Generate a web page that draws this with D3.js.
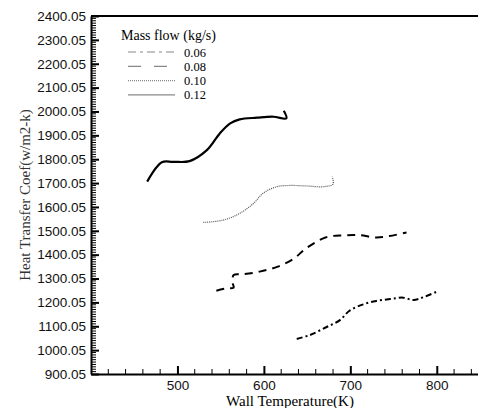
<!DOCTYPE html>
<html>
<head>
<meta charset="utf-8">
<script src="https://cdn.jsdelivr.net/npm/d3@7/dist/d3.min.js"></script>
<style>
  html, body { margin: 0; padding: 0; background: #fff; }
  svg { display: block; }
</style>
</head>
<body>
<svg id="chart" width="478" height="408"></svg>
<script>
// tick labels
const xTicks = [500, 600, 700, 800];
const yTicks = [900.05, 1000.05, 1100.05, 1200.05, 1300.05, 1400.05, 1500.05, 1600.05,
  1700.05, 1800.05, 1900.05, 2000.05, 2100.05, 2200.05, 2300.05, 2400.05];

// series (wall temperature K, heat transfer coef)
const seriesNames = ["0.06", "0.08", "0.10", "0.12"];
const flow006T = [638, 653, 672, 688, 699, 715, 730, 746, 761, 773, 784, 800];
const flow006H = [1047, 1063, 1096, 1126, 1165, 1192, 1206, 1214, 1220, 1210, 1221, 1245];
const flow008T = [545, 557, 565, 564, 565, 576, 595, 616, 634, 649, 672, 692, 710, 730, 745, 765];
const flow008H = [1249, 1259, 1262, 1280, 1315, 1318, 1329, 1350, 1382, 1427, 1473, 1481, 1482, 1472, 1478, 1493];
const flow010T = [530, 553, 572, 588, 599, 615, 630, 649, 669, 680, 679];
const flow010H = [1535, 1545, 1573, 1615, 1657, 1685, 1690, 1688, 1685, 1696, 1727];
const flow012T = [465, 482, 495, 514, 534, 549, 561, 572, 592, 611, 626, 623];
const flow012H = [1706, 1787, 1789, 1792, 1838, 1908, 1950, 1967, 1974, 1978, 1971, 2003];

const svg = d3.select("#chart");
const margin = { left: 91, top: 16, bottom: 374, right: 480 };

const x = d3.scaleLinear().domain([400, 850]).range([margin.left, margin.right]);
const y = d3.scaleLinear().domain([900.05, 2400.05]).range([margin.bottom, margin.top]);

// frame: top line, left and bottom axes
svg.append("line")
  .attr("x1", margin.left).attr("x2", 478)
  .attr("y1", margin.top).attr("y2", margin.top)
  .attr("stroke", "#000").attr("stroke-width", 2);

// minor ticks
const xMinor = d3.range(420, 850, 20).filter(v => v % 100 !== 0);
const yMinor = d3.range(910.05, 2400, 10).filter((v, i) => (i + 1) % 10 !== 0);

svg.append("g").selectAll("line").data(xMinor).join("line")
  .attr("x1", d => x(d)).attr("x2", d => x(d))
  .attr("y1", margin.bottom).attr("y2", margin.bottom - 5)
  .attr("stroke", "#000").attr("stroke-width", 1);
svg.append("g").selectAll("line").data(yMinor).join("line")
  .attr("x1", margin.left).attr("x2", margin.left + 5)
  .attr("y1", d => y(d)).attr("y2", d => y(d))
  .attr("stroke", "#000").attr("stroke-width", 1);

const xAxis = svg.append("g")
  .attr("transform", `translate(0,${margin.bottom})`)
  .call(d3.axisBottom(x).tickValues(xTicks).tickSizeInner(-8).tickSizeOuter(0).tickPadding(4));
const yAxis = svg.append("g")
  .attr("transform", `translate(${margin.left},0)`)
  .call(d3.axisLeft(y).tickValues(yTicks).tickFormat(d3.format(".2f")).tickSizeInner(-8).tickSizeOuter(0).tickPadding(5));

[xAxis, yAxis].forEach(g => {
  g.select(".domain").attr("stroke-width", 2);
  g.selectAll(".tick line").attr("stroke-width", 2);
  g.selectAll("text")
    .style("font-family", "'Liberation Sans', Arial, sans-serif")
    .style("font-size", "13.5px")
    .attr("fill", "#111");
});
yAxis.selectAll(".tick text").attr("x", -5);
xAxis.selectAll(".tick text").attr("y", 6);

// axis titles
svg.append("text")
  .attr("x", 290).attr("y", 406)
  .attr("text-anchor", "middle")
  .style("font-family", "'Liberation Serif', 'Times New Roman', serif")
  .style("font-size", "15px")
  .text("Wall Temperature(K)");
svg.append("text")
  .attr("transform", "translate(30,195) rotate(-90)")
  .attr("text-anchor", "middle")
  .style("font-family", "'Liberation Serif', 'Times New Roman', serif")
  .style("font-size", "15px")
  .attr("fill", "#333")
  .text("Heat Transfer Coef(w/m2-k)");

// curves
const series = [
  { name: seriesNames[0], T: flow006T, H: flow006H, dash: "6,3,2,3", width: 2, color: "#000" },
  { name: seriesNames[1], T: flow008T, H: flow008H, dash: "8,6", width: 2, color: "#000" },
  { name: seriesNames[2], T: flow010T, H: flow010H, dash: "1,1", width: 1.2, color: "#555" },
  { name: seriesNames[3], T: flow012T, H: flow012H, dash: null, width: 2.2, color: "#000" }
];

const line = d3.line()
  .x(d => x(d[0]))
  .y(d => y(d[1]))
  .curve(d3.curveCatmullRom.alpha(0.5));

svg.append("g").selectAll("path").data(series).join("path")
  .attr("fill", "none")
  .attr("stroke", d => d.color)
  .attr("stroke-width", d => d.width)
  .attr("stroke-dasharray", d => d.dash)
  .attr("d", d => line(d.T.map((t, i) => [t, d.H[i]])));

// legend
const legend = svg.append("g");
legend.append("text")
  .attr("x", 121).attr("y", 40)
  .style("font-family", "'Liberation Serif', 'Times New Roman', serif")
  .style("font-size", "14px")
  .text("Mass flow (kg/s)");
const legendDash = ["8,4,3,4", "13,13", "1,1", null];
series.forEach((s, i) => {
  const ly = 52 + i * 14.3;
  legend.append("line")
    .attr("x1", 128).attr("x2", 175)
    .attr("y1", ly).attr("y2", ly)
    .attr("stroke", "#888").attr("stroke-width", 1.2)
    .attr("stroke-dasharray", legendDash[i]);
  legend.append("text")
    .attr("x", 184).attr("y", ly + 4.5)
    .style("font-family", "'Liberation Serif', 'Times New Roman', serif")
    .style("font-size", "12.5px")
    .text(s.name);
});
</script>
</body>
</html>
